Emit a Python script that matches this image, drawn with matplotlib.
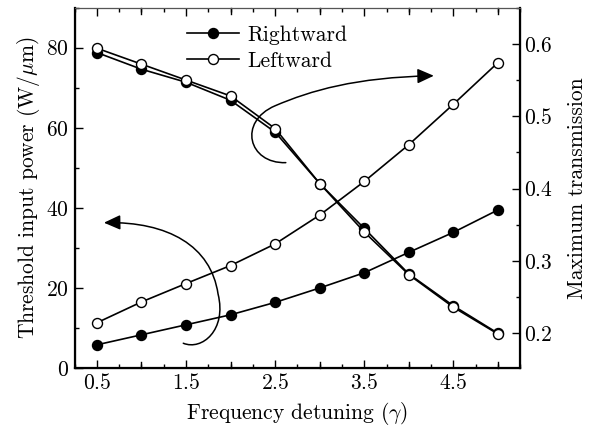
import matplotlib
matplotlib.use('Agg')
import matplotlib.pyplot as plt
from matplotlib.path import Path
from matplotlib.patches import FancyArrowPatch
from matplotlib.ticker import MultipleLocator

plt.rcParams['font.family'] = 'serif'
plt.rcParams['font.serif'] = ['cmr10']
plt.rcParams['mathtext.fontset'] = 'cm'
plt.rcParams['axes.formatter.use_mathtext'] = True

# detuning values (gamma)
detuning = [0.5, 1.0, 1.5, 2.0, 2.5, 3.0, 3.5, 4.0, 4.5, 5.0]
# threshold input power (W/um), left axis
thr_right = [5.8, 8.3, 10.8, 13.3, 16.4, 20.0, 23.8, 28.9, 33.9, 39.5]
thr_left = [11.3, 16.5, 21.1, 25.6, 31.0, 38.2, 46.6, 55.8, 65.9, 76.3]
# maximum transmission, right axis
trans_right = [0.588, 0.565, 0.547, 0.522, 0.478, 0.407, 0.345, 0.282, 0.238, 0.200]
trans_left = [0.594, 0.572, 0.550, 0.528, 0.483, 0.407, 0.340, 0.281, 0.236, 0.199]

xticks = [0.5, 1.5, 2.5, 3.5, 4.5]

fig = plt.figure(figsize=(5.96, 4.26), dpi=100)
ax = fig.add_axes([0.125, 0.136, 0.748, 0.846])
ax2 = ax.twinx()

mk = dict(color='black', lw=1.2, marker='o', ms=7.2, mec='black', mew=1.0)
l1, = ax.plot(detuning, thr_right, mfc='black', label='Rightward', **mk)
l2, = ax.plot(detuning, thr_left, mfc='white', label='Leftward', **mk)
ax2.plot(detuning, trans_right, mfc='black', **mk)
ax2.plot(detuning, trans_left, mfc='white', **mk)

ax.set_xlim(0.25, 5.25)
ax.set_ylim(0, 90)
ax2.set_ylim(0.152, 0.65)

ax.set_xticks(xticks)
ax.xaxis.set_minor_locator(MultipleLocator(0.25))
ax.yaxis.set_major_locator(MultipleLocator(20))
ax.yaxis.set_minor_locator(MultipleLocator(10))
ax2.yaxis.set_major_locator(MultipleLocator(0.1))
ax2.yaxis.set_minor_locator(MultipleLocator(0.05))

for a in (ax, ax2):
    a.tick_params(which='both', direction='in', labelsize=15.5, width=1.0)
    a.tick_params(which='major', length=6)
    a.tick_params(which='minor', length=3)
ax.tick_params(axis='x', top=True, which='both')
ax.tick_params(axis='y', pad=4)
ax2.tick_params(axis='y', pad=3)

# unlabeled longer ticks at whole detuning values
for xv in [1.0, 2.0, 3.0, 4.0, 5.0]:
    ax.plot([xv, xv], [0, 1.6], color='black', lw=1.0, clip_on=False)
    ax.plot([xv, xv], [90, 88.4], color='black', lw=1.0, clip_on=False)

for s in ['left', 'bottom', 'right']:
    ax2.spines[s].set_linewidth(1.6)
ax2.spines['top'].set_linewidth(0.8)
ax2.spines['top'].set_color('#555555')

ax.set_xlabel(r'Frequency detuning ($\gamma$)', fontsize=15.5, labelpad=5)
ax.set_ylabel(r'Threshold input power (W/$\mu$m)', fontsize=15.5, labelpad=3)
ax2.set_ylabel('Maximum transmission', fontsize=15.5, labelpad=10)

ax.legend(handles=[l1, l2], loc='upper left', bbox_to_anchor=(0.21, 1.005),
          frameon=False, fontsize=15.5, handlelength=2.4, handletextpad=0.4,
          labelspacing=0.3)

# curved arrows pointing to the relevant axes
arrow_style = '-|>,head_length=10,head_width=4.5'
up_verts = [(2.62, 51.3), (2.2, 51.0), (2.08, 61.5), (2.5, 65.5),
            (2.9, 69.3), (3.4, 72.6), (4.28, 73.0)]
up_codes = [Path.MOVETO] + [Path.CURVE4] * 6
ax.add_patch(FancyArrowPatch(path=Path(up_verts, up_codes), arrowstyle=arrow_style,
                             color='black', lw=1.1, shrinkA=0, shrinkB=0))

lo_verts = [(1.47, 6.2), (1.68, 4.3), (1.96, 9.5), (1.86, 18.5),
            (1.78, 30.5), (1.3, 36.6), (0.58, 36.3)]
lo_codes = [Path.MOVETO] + [Path.CURVE4] * 6
ax.add_patch(FancyArrowPatch(path=Path(lo_verts, lo_codes), arrowstyle=arrow_style,
                             color='black', lw=1.1, shrinkA=0, shrinkB=0))

fig.savefig('out.png', dpi=100)
